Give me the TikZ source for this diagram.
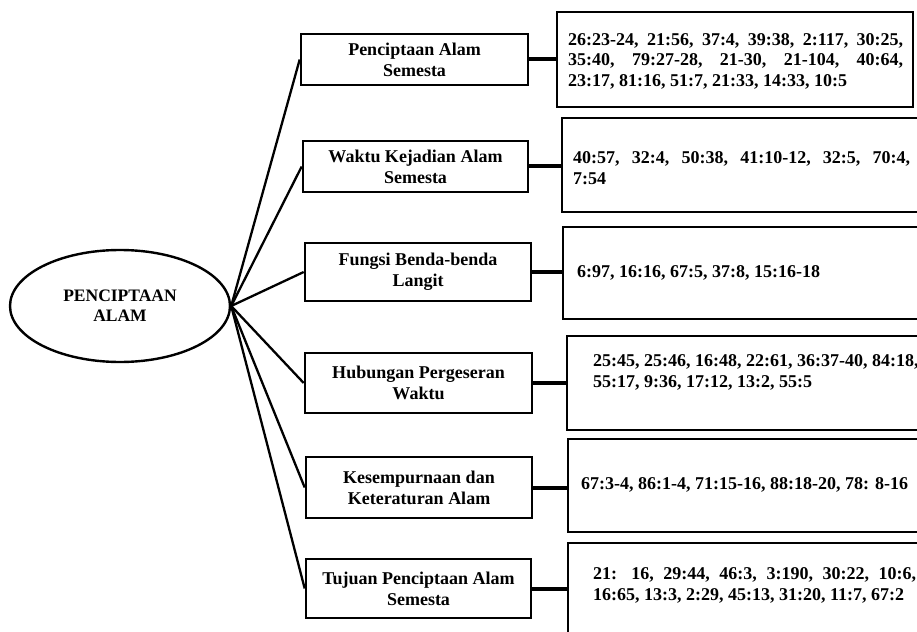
\documentclass[tikz,border=0pt]{standalone}
\usepackage{fontspec}
\setmainfont{Liberation Serif}
\usetikzlibrary{shapes.geometric}
\tolerance=10000
\hbadness=10000
\begin{document}
\begin{tikzpicture}[x=1pt,y=-1pt,
  rootnode/.style={ellipse, draw, line width=2.4pt, inner sep=0pt, minimum width=220pt, minimum height=112pt, align=center, font=\bfseries\fontsize{17.5}{20}\selectfont},
  midbox/.style={draw, line width=2.6pt, inner sep=0pt, align=center, font=\bfseries\fontsize{18}{21}\selectfont},
  refbox/.style={draw, line width=2.6pt, inner sep=0pt},
  reftext/.style={anchor=west, inner sep=0pt, font=\bfseries\fontsize{18}{20.5}\selectfont},
  fan/.style={line width=2.3pt},
  link/.style={line width=4pt}
]
\useasboundingbox (0,0) rectangle (917,631);
\clip (0,0) rectangle (917,631);

% root
\node[rootnode] (e) at (120,306) {PENCIPTAAN\\ALAM};

% middle boxes
\node[midbox, minimum width=227pt, minimum height=51pt] (m1) at (414.5,59.5) {Penciptaan Alam\\Semesta};
\node[midbox, minimum width=225pt, minimum height=51pt] (m2) at (415.5,166.5) {Waktu Kejadian Alam\\Semesta};
\node[midbox, minimum width=226pt, minimum height=58pt] (m3) at (418,272) {Fungsi Benda-benda\\Langit};
\node[midbox, minimum width=227pt, minimum height=60pt] (m4) at (418.5,383) {Hubungan Pergeseran\\Waktu};
\node[midbox, minimum width=226pt, minimum height=61pt] (m5) at (419,487.5) {Kesempurnaan dan\\Keteraturan Alam};
\node[midbox, minimum width=225pt, minimum height=59pt] (m6) at (418.5,588.5) {Tujuan Penciptaan Alam\\Semesta};

% right boxes
\node[refbox, minimum width=356pt, minimum height=95pt] (r1) at (735,59.5) {};
\node[refbox, minimum width=368pt, minimum height=94pt] (r2) at (746,165) {};
\node[refbox, minimum width=367pt, minimum height=92pt] (r3) at (746.5,273) {};
\node[refbox, minimum width=363pt, minimum height=94pt] (r4) at (748.5,383) {};
\node[refbox, minimum width=362pt, minimum height=93pt] (r5) at (749,485.5) {};
\node[refbox, minimum width=362pt, minimum height=93pt] (r6) at (749,589.5) {};

% texts of right boxes
\node[reftext, text width=335pt, align=justify] (t1) at (568,61) {26:23-24, 21:56, 37:4, 39:38, 2:117, 30:25,\linebreak 35:40, 79:27-28, 21-30, 21-104, 40:64,\linebreak 23:17, 81:16, 51:7, 21:33, 14:33, 10:5};
\node[reftext, text width=337pt, align=justify] (t2) at (573,168) {40:57, 32:4, 50:38, 41:10-12, 32:5, 70:4,\linebreak 7:54};
\node[reftext] (t3) at (577,273) {6:97, 16:16, 67:5, 37:8, 15:16-18};
\node[reftext, align=left] (t4) at (593,372.5) {25:45, 25:46, 16:48, 22:61, 36:37-40, 84:18,\\55:17, 9:36, 17:12, 13:2, 55:5};
\node[reftext] (t5) at (581,485) {67:3-4, 86:1-4, 71:15-16, 88:18-20, 78: 8-16};
\node[reftext, text width=323pt, align=justify] (t6) at (593,585.5) {21: 16, 29:44, 46:3, 3:190, 30:22, 10:6,\linebreak 16:65, 13:3, 2:29, 45:13, 31:20, 11:7, 67:2};

% fan connectors
\foreach \m in {m1,m2,m3,m4,m5,m6} {
  \draw[fan] (e.east) -- (\m.west);
}

% links to reference boxes
\draw[link] (m1.east) -- (m1.east -| r1.west);
\draw[link] (m2.east) -- (m2.east -| r2.west);
\draw[link] (m3.east) -- (m3.east -| r3.west);
\draw[link] (m4.east) -- (m4.east -| r4.west);
\draw[link] (m5.east) -- (m5.east -| r5.west);
\draw[link] (m6.east) -- (m6.east -| r6.west);
\end{tikzpicture}
\end{document}
